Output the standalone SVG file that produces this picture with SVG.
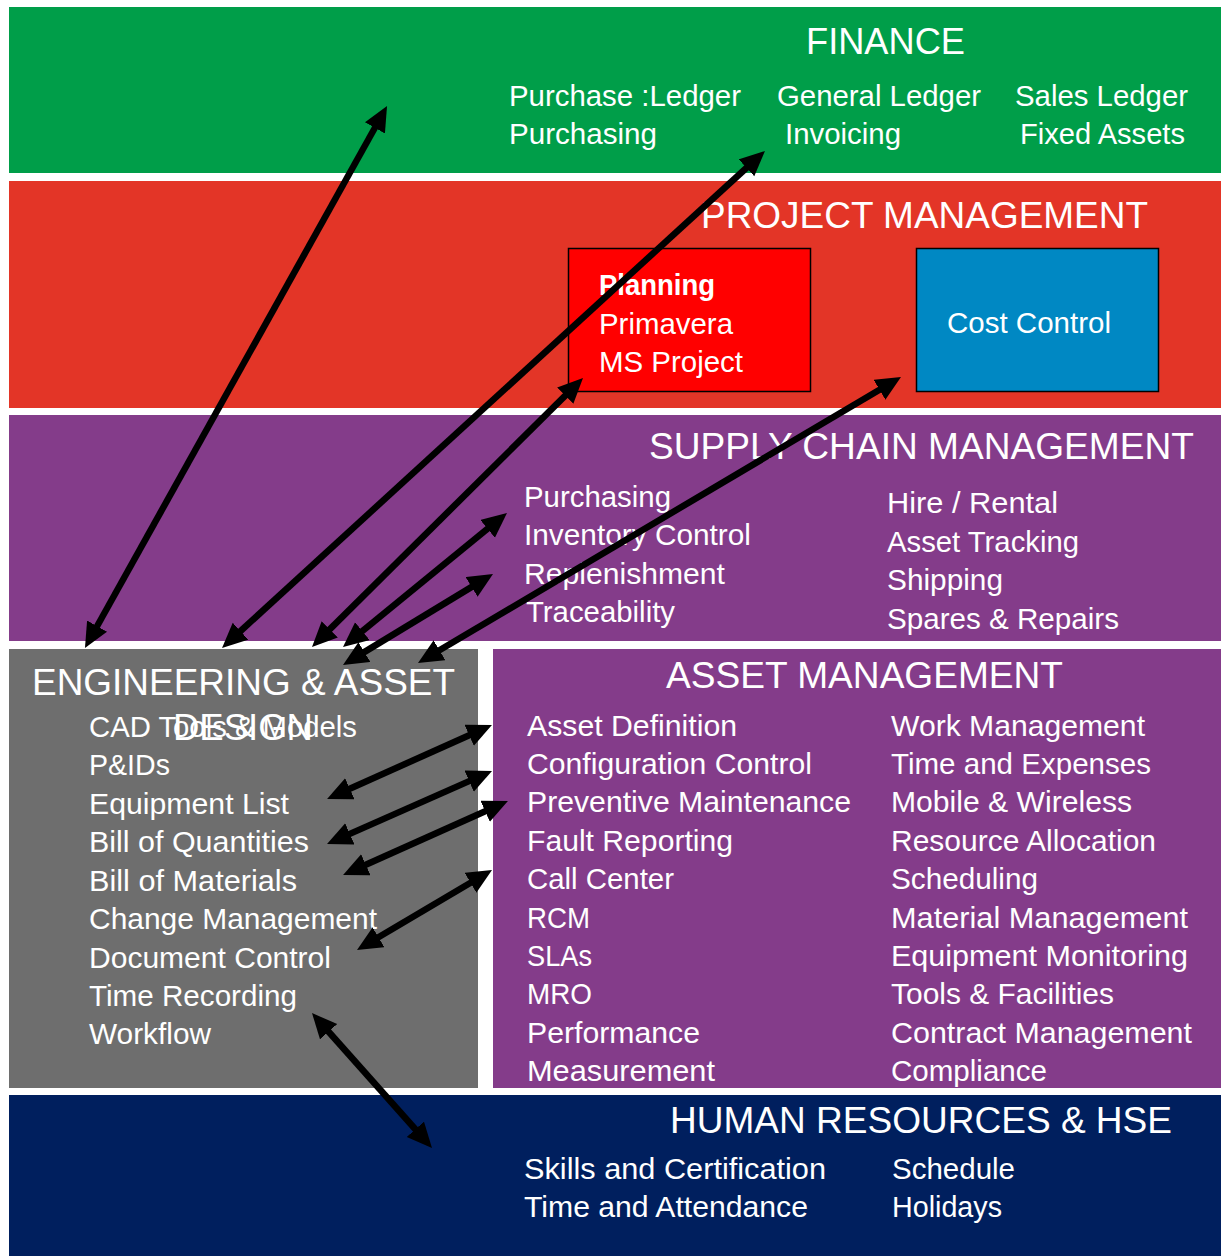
<svg xmlns="http://www.w3.org/2000/svg" width="1221" height="1256" viewBox="0 0 1221 1256">
<style>
text{font-family:"Liberation Sans",Arial,sans-serif;fill:#fff}
.t{font-size:36px}
.b{font-size:30px}
.bold{font-weight:bold}
.arr{stroke:#000;stroke-width:6.5;fill:none;marker-start:url(#ah);marker-end:url(#ah)}
</style>
<defs>
<marker id="ah" markerUnits="userSpaceOnUse" markerWidth="26" markerHeight="24" refX="5" refY="11.5" orient="auto-start-reverse" viewBox="0 0 26 24">
<path d="M0,0 L25,11.5 L0,23 z" fill="#000"/>
</marker>
</defs>
<rect width="1221" height="1256" fill="#fff"/>

<g id="finance">
<rect x="9" y="7" width="1212" height="166" fill="#009E49"/>
<text class="t" x="806" y="54" textLength="159" lengthAdjust="spacingAndGlyphs">FINANCE</text>
<text class="b" x="509" y="106" textLength="232" lengthAdjust="spacingAndGlyphs">Purchase :Ledger</text>
<text class="b" x="509" y="144" textLength="148" lengthAdjust="spacingAndGlyphs">Purchasing</text>
<text class="b" x="777" y="106" textLength="204" lengthAdjust="spacingAndGlyphs">General Ledger</text>
<text class="b" x="785" y="144" textLength="116" lengthAdjust="spacingAndGlyphs">Invoicing</text>
<text class="b" x="1015" y="106" textLength="173" lengthAdjust="spacingAndGlyphs">Sales Ledger</text>
<text class="b" x="1020" y="144" textLength="165" lengthAdjust="spacingAndGlyphs">Fixed Assets</text>
</g>

<g id="project-management">
<rect x="9" y="181" width="1212" height="227" fill="#E33527"/>
<text class="t" x="701" y="228" textLength="447" lengthAdjust="spacingAndGlyphs">PROJECT MANAGEMENT</text>
</g>

<g id="planning">
<rect x="568.5" y="248.5" width="242" height="143" fill="#FF0000" stroke="#000" stroke-width="1.5"/>
<text class="b bold" x="599" y="295" textLength="116" lengthAdjust="spacingAndGlyphs">Planning</text>
<text class="b" x="599" y="334" textLength="134" lengthAdjust="spacingAndGlyphs">Primavera</text>
<text class="b" x="599" y="372" textLength="144" lengthAdjust="spacingAndGlyphs">MS Project</text>
</g>

<g id="cost-control">
<rect x="916.5" y="248.5" width="242" height="143" fill="#0088C3" stroke="#000" stroke-width="1.5"/>
<text class="b" x="947" y="333" textLength="164" lengthAdjust="spacingAndGlyphs">Cost Control</text>
</g>

<g id="supply-chain">
<rect x="9" y="415" width="1212" height="226" fill="#843C8A"/>
<text class="t" x="649" y="459" textLength="545" lengthAdjust="spacingAndGlyphs">SUPPLY CHAIN MANAGEMENT</text>
<text class="b" x="524" y="507" textLength="147" lengthAdjust="spacingAndGlyphs">Purchasing</text>
<text class="b" x="524" y="545" textLength="227" lengthAdjust="spacingAndGlyphs">Inventory Control</text>
<text class="b" x="524" y="584" textLength="201" lengthAdjust="spacingAndGlyphs">Replenishment</text>
<text class="b" x="526" y="622" textLength="149" lengthAdjust="spacingAndGlyphs">Traceability</text>
<text class="b" x="887" y="513" textLength="171" lengthAdjust="spacingAndGlyphs">Hire / Rental</text>
<text class="b" x="887" y="552" textLength="192" lengthAdjust="spacingAndGlyphs">Asset Tracking</text>
<text class="b" x="887" y="590" textLength="116" lengthAdjust="spacingAndGlyphs">Shipping</text>
<text class="b" x="887" y="629" textLength="232" lengthAdjust="spacingAndGlyphs">Spares &amp; Repairs</text>
</g>

<g id="engineering">
<rect x="9" y="649" width="469" height="439" fill="#6E6E6E"/>
<text class="b" x="89" y="737" textLength="268" lengthAdjust="spacingAndGlyphs">CAD Tools &amp; Models</text>
<text class="b" x="89" y="775" textLength="81" lengthAdjust="spacingAndGlyphs">P&amp;IDs</text>
<text class="b" x="89" y="814" textLength="200" lengthAdjust="spacingAndGlyphs">Equipment List</text>
<text class="b" x="89" y="852" textLength="220" lengthAdjust="spacingAndGlyphs">Bill of Quantities</text>
<text class="b" x="89" y="891" textLength="208" lengthAdjust="spacingAndGlyphs">Bill of Materials</text>
<text class="b" x="89" y="929" textLength="288" lengthAdjust="spacingAndGlyphs">Change Management</text>
<text class="b" x="89" y="968" textLength="242" lengthAdjust="spacingAndGlyphs">Document Control</text>
<text class="b" x="89" y="1006" textLength="208" lengthAdjust="spacingAndGlyphs">Time Recording</text>
<text class="b" x="89" y="1044" textLength="122" lengthAdjust="spacingAndGlyphs">Workflow</text>
<text class="t" x="32" y="695" textLength="423" lengthAdjust="spacingAndGlyphs">ENGINEERING &amp; ASSET</text>
<text class="t" x="173" y="740" textLength="140" lengthAdjust="spacingAndGlyphs">DESIGN</text>
</g>

<g id="asset-management">
<rect x="493" y="649" width="728" height="439" fill="#843C8A"/>
<text class="t" x="666" y="688" textLength="397" lengthAdjust="spacingAndGlyphs">ASSET MANAGEMENT</text>
<text class="b" x="527" y="736" textLength="210" lengthAdjust="spacingAndGlyphs">Asset Definition</text>
<text class="b" x="527" y="774" textLength="285" lengthAdjust="spacingAndGlyphs">Configuration Control</text>
<text class="b" x="527" y="812" textLength="324" lengthAdjust="spacingAndGlyphs">Preventive Maintenance</text>
<text class="b" x="527" y="851" textLength="206" lengthAdjust="spacingAndGlyphs">Fault Reporting</text>
<text class="b" x="527" y="889" textLength="147" lengthAdjust="spacingAndGlyphs">Call Center</text>
<text class="b" x="527" y="928" textLength="63" lengthAdjust="spacingAndGlyphs">RCM</text>
<text class="b" x="527" y="966" textLength="65" lengthAdjust="spacingAndGlyphs">SLAs</text>
<text class="b" x="527" y="1004" textLength="65" lengthAdjust="spacingAndGlyphs">MRO</text>
<text class="b" x="527" y="1043" textLength="173" lengthAdjust="spacingAndGlyphs">Performance</text>
<text class="b" x="527" y="1081" textLength="188" lengthAdjust="spacingAndGlyphs">Measurement</text>
<text class="b" x="891" y="736" textLength="254" lengthAdjust="spacingAndGlyphs">Work Management</text>
<text class="b" x="891" y="774" textLength="260" lengthAdjust="spacingAndGlyphs">Time and Expenses</text>
<text class="b" x="891" y="812" textLength="241" lengthAdjust="spacingAndGlyphs">Mobile &amp; Wireless</text>
<text class="b" x="891" y="851" textLength="265" lengthAdjust="spacingAndGlyphs">Resource Allocation</text>
<text class="b" x="891" y="889" textLength="147" lengthAdjust="spacingAndGlyphs">Scheduling</text>
<text class="b" x="891" y="928" textLength="297" lengthAdjust="spacingAndGlyphs">Material Management</text>
<text class="b" x="891" y="966" textLength="297" lengthAdjust="spacingAndGlyphs">Equipment Monitoring</text>
<text class="b" x="891" y="1004" textLength="223" lengthAdjust="spacingAndGlyphs">Tools &amp; Facilities</text>
<text class="b" x="891" y="1043" textLength="301" lengthAdjust="spacingAndGlyphs">Contract Management</text>
<text class="b" x="891" y="1081" textLength="156" lengthAdjust="spacingAndGlyphs">Compliance</text>
</g>

<g id="human-resources">
<rect x="9" y="1095" width="1212" height="161" fill="#001F5E"/>
<text class="t" x="670" y="1133" textLength="502" lengthAdjust="spacingAndGlyphs">HUMAN RESOURCES &amp; HSE</text>
<text class="b" x="524" y="1179" textLength="302" lengthAdjust="spacingAndGlyphs">Skills and Certification</text>
<text class="b" x="524" y="1217" textLength="284" lengthAdjust="spacingAndGlyphs">Time and Attendance</text>
<text class="b" x="892" y="1179" textLength="123" lengthAdjust="spacingAndGlyphs">Schedule</text>
<text class="b" x="892" y="1217" textLength="110" lengthAdjust="spacingAndGlyphs">Holidays</text>
</g>

<g id="connectors">
<line class="arr" x1="94.7" y1="630.5" x2="377.3" y2="123.5"/>
<line class="arr" x1="236.8" y1="634.5" x2="750.2" y2="164.5"/>
<line class="arr" x1="326.2" y1="632.9" x2="568.8" y2="392.1"/>
<line class="arr" x1="358.5" y1="634.3" x2="491.5" y2="525.6"/>
<line class="arr" x1="360.1" y1="654.6" x2="475.9" y2="584.4"/>
<line class="arr" x1="435.2" y1="652.8" x2="883.8" y2="387.2"/>
<line class="arr" x1="345.3" y1="790.8" x2="473.7" y2="733.2"/>
<line class="arr" x1="345.3" y1="835.9" x2="473.7" y2="779.1"/>
<line class="arr" x1="361.3" y1="866.8" x2="489.7" y2="809.2"/>
<line class="arr" x1="374.2" y1="939.8" x2="474.8" y2="880.2"/>
<line class="arr" x1="325.3" y1="1028" x2="418.7" y2="1133"/>
</g>
</svg>
